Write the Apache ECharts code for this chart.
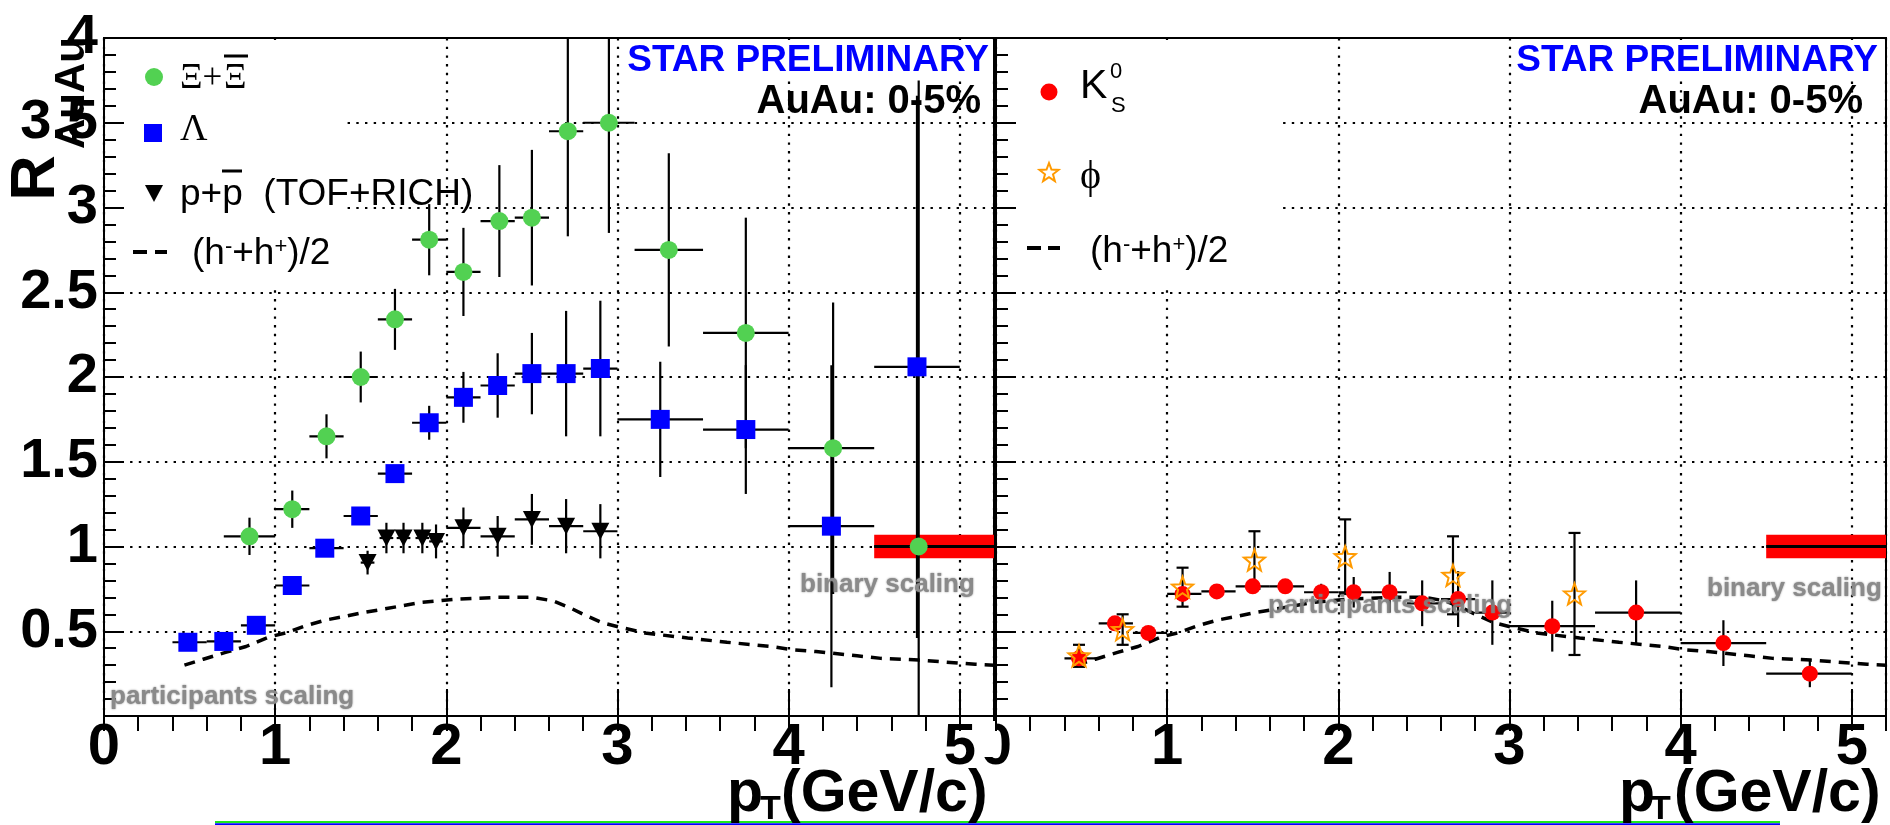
<!DOCTYPE html>
<html>
<head>
<meta charset="utf-8">
<title>R_AuAu vs pT</title>
<script src="https://cdn.jsdelivr.net/npm/echarts@6.0.0/dist/echarts.min.js"></script>
<style>
html,body{margin:0;padding:0;background:#fff;}
#chart{width:1890px;height:825px;}
</style>
</head>
<body>
<div id="chart"></div>
<script>
// ---------- Xi + anti-Xi ----------
const xiPt    = [0.85, 1.10, 1.30, 1.50, 1.70, 1.90, 2.10, 2.31, 2.50, 2.71, 2.95, 3.30, 3.75, 4.26, 4.76];
const xiR     = [1.06, 1.22, 1.65, 2.00, 2.34, 2.81, 2.62, 2.92, 2.94, 3.45, 3.50, 2.75, 2.26, 1.58, 1.00];
const xiErr   = [0.11, 0.11, 0.13, 0.15, 0.18, 0.21, 0.26, 0.33, 0.40, 0.62, 0.65, 0.57, 0.68, 0.86, 2.75];
const xiBinLo = [0.70, 1.00, 1.20, 1.40, 1.60, 1.80, 2.00, 2.20, 2.40, 2.60, 2.80, 3.10, 3.50, 4.00, 4.50];
const xiBinHi = [1.00, 1.20, 1.40, 1.60, 1.80, 2.00, 2.20, 2.40, 2.60, 2.80, 3.10, 3.50, 4.00, 4.50, 5.00];

// ---------- Lambda ----------
const laPt    = [0.49, 0.70, 0.89, 1.10, 1.29, 1.50, 1.70, 1.90, 2.10, 2.30, 2.50, 2.70, 2.90, 3.25, 3.75, 4.25, 4.75];
const laR     = [0.435, 0.44, 0.535, 0.77, 0.99, 1.18, 1.43, 1.73, 1.88, 1.95, 2.02, 2.02, 2.05, 1.75, 1.69, 1.12, 2.06];
const laErr   = [0.03, 0.03, 0.03, 0.03, 0.04, 0.04, 0.05, 0.10, 0.15, 0.19, 0.24, 0.37, 0.40, 0.34, 0.38, 0.95, 1.60];
const laBinLo = [0.40, 0.60, 0.80, 1.00, 1.20, 1.40, 1.60, 1.80, 2.00, 2.20, 2.40, 2.60, 2.80, 3.00, 3.50, 4.00, 4.50];
const laBinHi = [0.60, 0.80, 1.00, 1.20, 1.40, 1.60, 1.80, 2.00, 2.20, 2.40, 2.60, 2.80, 3.00, 3.50, 4.00, 4.50, 5.00];

// ---------- p + pbar (TOF+RICH) ----------
const ppPt    = [1.54, 1.65, 1.75, 1.86, 1.94, 2.10, 2.30, 2.50, 2.70, 2.90];
const ppR     = [0.905, 1.05, 1.05, 1.05, 1.03, 1.11, 1.06, 1.16, 1.12, 1.09];
const ppErr   = [0.07, 0.09, 0.09, 0.09, 0.10, 0.12, 0.12, 0.15, 0.16, 0.16];
const ppBinLo = [1.50, 1.61, 1.71, 1.82, 1.90, 2.00, 2.20, 2.40, 2.60, 2.80];
const ppBinHi = [1.58, 1.69, 1.79, 1.90, 1.98, 2.20, 2.40, 2.60, 2.80, 3.00];

// ---------- K0s ----------
const k0Pt    = [0.485, 0.695, 0.89, 1.09, 1.29, 1.50, 1.69, 1.90, 2.09, 2.30, 2.49, 2.70, 2.90, 3.25, 3.74, 4.25, 4.755];
const k0R     = [0.34, 0.547, 0.49, 0.72, 0.735, 0.765, 0.765, 0.73, 0.73, 0.73, 0.665, 0.69, 0.61, 0.53, 0.61, 0.43, 0.25];
const k0Err   = [0.02, 0.04, 0.03, 0.04, 0.03, 0.04, 0.04, 0.05, 0.09, 0.12, 0.135, 0.165, 0.19, 0.15, 0.19, 0.135, 0.08];
const k0BinLo = [0.40, 0.60, 0.80, 1.00, 1.20, 1.40, 1.60, 1.80, 2.00, 2.20, 2.40, 2.60, 2.80, 3.00, 3.50, 4.00, 4.50];
const k0BinHi = [0.60, 0.80, 1.00, 1.20, 1.40, 1.60, 1.80, 2.00, 2.20, 2.40, 2.60, 2.80, 3.00, 3.50, 4.00, 4.50, 5.00];

// ---------- phi ----------
const phiPt   = [0.485, 0.74, 1.09, 1.51, 2.04, 2.67, 3.38];
const phiR    = [0.355, 0.51, 0.76, 0.92, 0.94, 0.83, 0.72];
const phiErr  = [0.065, 0.09, 0.115, 0.17, 0.22, 0.23, 0.36];

// ---------- charged hadrons (h- + h+)/2 ----------
const hPt = [0.47, 0.58, 0.71, 0.83, 0.96, 1.06, 1.17, 1.29, 1.42, 1.51, 1.63, 1.85, 2.07, 2.30, 2.50, 2.62,
             2.72, 2.80, 2.91, 3.03, 3.16, 3.41, 3.64, 3.90, 4.03, 4.16, 4.40, 4.54, 4.76, 4.89, 5.09, 5.20];
const hR  = [0.30, 0.335, 0.375, 0.41, 0.465, 0.49, 0.53, 0.565, 0.59, 0.61, 0.63, 0.67, 0.69, 0.70, 0.70, 0.68,
             0.64, 0.60, 0.55, 0.52, 0.49, 0.46, 0.435, 0.41, 0.39, 0.38, 0.355, 0.34, 0.33, 0.32, 0.305, 0.30];

// ---------- binary-scaling reference band ----------
const bandPt    = [4.5, 5.2];
const bandLevel = 1.0;
const bandHalf  = 0.07;

// ---------- axis tick labels ----------
const xTickLabels = ['0', '1', '2', '3', '4', '5'];
const yTickLabels = ['0.5', '1', '1.5', '2', '2.5', '3', '3.5', '4'];

// ---------- styling ----------
const SANS  = '"Liberation Sans", Arial, Helvetica, sans-serif';
const SERIF = '"Liberation Serif", "DejaVu Serif", "Times New Roman", serif';
const GREEN = '#52d152', BLUE = '#0000ff', RED = '#ff0000', ORANGE = '#ff9a00', GREY = '#8a8a8a';
const X_MAX = 5.2, Y_MAX = 4;

function starPoints(cx, cy, rOut, rIn) {
  const pts = [];
  for (let i = 0; i < 10; i++) {
    const r = i % 2 ? rIn : rOut;
    const a = -Math.PI / 2 + i * Math.PI / 5;
    pts.push([cx + r * Math.cos(a), cy + r * Math.sin(a)]);
  }
  return pts;
}
const STAR_SYMBOL = 'path://' + starPoints(0, 0, 10, 4.2)
  .map((p, i) => (i ? 'L' : 'M') + p[0].toFixed(3) + ',' + p[1].toFixed(3)).join('') + 'Z';
const TRI_DOWN = 'path://M0,0L10,0L5,9.2Z';

// error bars: vertical bar (+ optional end caps) and horizontal bin bar
function errorBars(xs, ys, err, lo, hi, cap, xi, yi) {
  const data = xs.map((x, i) => [x, ys[i], ys[i] - err[i], ys[i] + err[i],
                                 lo ? lo[i] : x, hi ? hi[i] : x]);
  return {
    type: 'custom', xAxisIndex: xi, yAxisIndex: yi, clip: true, silent: true, z: 5,
    data,
    encode: { x: 0, y: 1 },
    renderItem(params, api) {
      const x = api.value(0), y = api.value(1);
      const c = api.coord([x, y]);
      const t = api.coord([x, api.value(3)]);
      const b = api.coord([x, api.value(2)]);
      const l = api.coord([api.value(4), y]);
      const r = api.coord([api.value(5), y]);
      const st = { stroke: '#000', lineWidth: 2.2 };
      const ch = [
        { type: 'line', shape: { x1: c[0], y1: t[1], x2: c[0], y2: b[1] }, style: st }
      ];
      if (r[0] - l[0] > 1) ch.push({ type: 'line', shape: { x1: l[0], y1: c[1], x2: r[0], y2: c[1] }, style: st });
      if (cap) {
        ch.push({ type: 'line', shape: { x1: c[0] - cap, y1: t[1], x2: c[0] + cap, y2: t[1] }, style: st });
        ch.push({ type: 'line', shape: { x1: c[0] - cap, y1: b[1], x2: c[0] + cap, y2: b[1] }, style: st });
      }
      return { type: 'group', children: ch };
    }
  };
}

function band(xi, yi) {
  return {
    type: 'custom', xAxisIndex: xi, yAxisIndex: yi, clip: true, silent: true, z: 4,
    data: [[bandPt[0], bandPt[1], bandLevel, bandHalf]],
    renderItem(params, api) {
      const a = api.coord([api.value(0), api.value(2) + api.value(3)]);
      const b = api.coord([api.value(1), api.value(2) - api.value(3)]);
      const m0 = api.coord([api.value(0), api.value(2)]);
      const m1 = api.coord([api.value(1), api.value(2)]);
      return { type: 'group', children: [
        { type: 'rect', shape: { x: a[0], y: a[1], width: b[0] - a[0], height: b[1] - a[1] }, style: { fill: RED } },
        { type: 'line', shape: { x1: m0[0], y1: m0[1], x2: m1[0], y2: m1[1] }, style: { stroke: '#000', lineWidth: 3 } }
      ]};
    }
  };
}

function hadronLine(xi, yi) {
  return {
    type: 'line', xAxisIndex: xi, yAxisIndex: yi, z: 3, silent: true,
    showSymbol: false, symbol: 'none', smooth: false,
    data: hPt.map((x, i) => [x, hR[i]]),
    lineStyle: { color: '#000', width: 3.5, type: [11, 8], opacity: 1 }
  };
}

function points(xs, ys, symbol, size, style, xi, yi) {
  return {
    type: 'scatter', xAxisIndex: xi, yAxisIndex: yi, z: 6, silent: true,
    symbol, symbolSize: size,
    data: xs.map((x, i) => [x, ys[i]]),
    itemStyle: Object.assign({ opacity: 1 }, style)
  };
}

const dotted = { color: '#000', width: 2.2, type: [2.4, 6.3], cap: 'butt' };

function xMajor(grid, showLabels) {
  return {
    type: 'value', gridIndex: grid, min: 0, max: X_MAX, interval: 1,
    axisLine: { show: true, onZero: false, lineStyle: { color: '#000', width: 2 } },
    axisTick: { show: true, inside: true, length: 27, lineStyle: { color: '#000', width: 2 } },
    minorTick: { show: false },
    splitLine: { show: true, lineStyle: dotted },
    axisLabel: {
      show: showLabels, margin: 3, color: '#000', fontFamily: SANS, fontWeight: 'bold', fontSize: 58,
      showMaxLabel: false,
      formatter: v => {
        const k = Math.round(v);
        return Math.abs(v - k) < 1e-6 && k < xTickLabels.length ? xTickLabels[k] : '';
      }
    }
  };
}
function xMinor(grid) {
  return {
    type: 'value', gridIndex: grid, min: 0, max: X_MAX, interval: 0.2,
    axisLine: { show: false },
    axisTick: { show: true, inside: true, length: 15, lineStyle: { color: '#000', width: 2 } },
    splitLine: { show: false },
    axisLabel: { show: false }
  };
}
function yAxis(grid, showLabels) {
  return {
    type: 'value', gridIndex: grid, min: 0, max: Y_MAX, interval: 0.5,
    axisLine: { show: true, onZero: false, lineStyle: { color: '#000', width: 2 } },
    axisTick: { show: true, inside: true, length: 20, lineStyle: { color: '#000', width: 2 } },
    minorTick: { show: true, splitNumber: 5, length: 12, lineStyle: { color: '#000', width: 2 } },
    splitLine: { show: true, lineStyle: dotted },
    axisLabel: {
      show: showLabels, margin: 6, color: '#000', fontFamily: SANS, fontWeight: 'bold', fontSize: 56,
      formatter: v => {
        const k = Math.round(v * 2) - 1;
        return k >= 0 && k < yTickLabels.length ? yTickLabels[k] : '';
      }
    }
  };
}

// ---------- free text & legend graphics ----------
function txt(x, y, text, size, o) {
  o = o || {};
  const style = {
    text, fontSize: size, fontFamily: o.family || SANS, fontWeight: o.weight || 'normal',
    fill: o.color || '#000', align: o.align || 'left', verticalAlign: 'middle'
  };
  if (o.rich) style.rich = o.rich;
  if (o.blur) { style.textShadowColor = o.color; style.textShadowBlur = o.blur; }
  return { type: 'text', x, y, rotation: o.rot || 0, z: o.z || 20, style, silent: true };
}
function whiteBox(x, y, w, h, z) {
  return { type: 'rect', z: z || 1, silent: true, shape: { x, y, width: w, height: h }, style: { fill: '#fff' } };
}
function seg(x1, y1, x2, y2, color, w, z) {
  return { type: 'line', z: z || 20, silent: true, shape: { x1, y1, x2, y2 }, style: { stroke: color, lineWidth: w } };
}
const hadronRich = {
  m: { fontSize: 37, fontFamily: SANS, verticalAlign: 'bottom' },
  s: { fontSize: 22, fontFamily: SANS, verticalAlign: 'top' }
};
const hadronText = '{m|(h}{s|-}{m|+h}{s|+}{m|)/2}';

const graphics = [
  // boxes that mask the grid behind the legends and the STAR labels
  whiteBox(128, 40, 219, 248),
  whiteBox(1021, 40, 256, 248),
  whiteBox(622, 40, 371, 39),
  whiteBox(1512, 40, 373, 39),

  // ----- left legend -----
  { type: 'circle', z: 20, silent: true, shape: { cx: 154, cy: 77, r: 9 }, style: { fill: GREEN } },
  txt(180, 79, 'Ξ+', 35, { family: SERIF }),
  txt(224, 79, 'Ξ', 35, { family: SERIF }),
  seg(224, 56, 248, 56, '#000', 3),
  { type: 'rect', z: 20, silent: true, shape: { x: 144, y: 124, width: 18, height: 18 }, style: { fill: BLUE } },
  txt(180, 130, 'Λ', 38, { family: SERIF }),
  { type: 'polygon', z: 20, silent: true, shape: { points: [[145, 185], [163, 185], [154, 202]] }, style: { fill: '#000' } },
  txt(180, 195, 'p+p  (TOF+RICH)', 37),
  seg(222, 171, 242, 171, '#000', 3),
  seg(133, 252, 147, 252, '#000', 4),
  seg(155, 252, 167, 252, '#000', 4),
  txt(192, 254, hadronText, 37, { rich: hadronRich }),

  // ----- right legend -----
  { type: 'circle', z: 20, silent: true, shape: { cx: 1049, cy: 92, r: 8.5 }, style: { fill: RED } },
  txt(1080, 87, 'K', 41),
  txt(1110, 72, '0', 22),
  txt(1111, 106, 'S', 22),
  { type: 'polygon', z: 20, silent: true, shape: { points: starPoints(1049, 173, 10, 4.2) },
    style: { fill: 'none', stroke: ORANGE, lineWidth: 2 } },
  txt(1080, 177, 'ϕ', 40, { family: SERIF }),
  seg(1027, 248, 1041, 248, '#000', 4),
  seg(1048, 248, 1060, 248, '#000', 4),
  txt(1090, 252, hadronText, 37, { rich: hadronRich }),

  // ----- panel labels -----
  txt(989, 61, 'STAR PRELIMINARY', 37, { weight: 'bold', color: BLUE, align: 'right' }),
  txt(981, 102, 'AuAu: 0-5%', 40, { weight: 'bold', align: 'right' }),
  txt(1878, 61, 'STAR PRELIMINARY', 37, { weight: 'bold', color: BLUE, align: 'right' }),
  txt(1863, 102, 'AuAu: 0-5%', 40, { weight: 'bold', align: 'right' }),

  // ----- scaling annotations -----
  txt(800, 585, 'binary scaling', 26, { weight: 'bold', color: GREY, blur: 2 }),
  txt(1707, 589, 'binary scaling', 26, { weight: 'bold', color: GREY, blur: 2 }),
  txt(110, 697, 'participants scaling', 26, { weight: 'bold', color: GREY, blur: 2 }),
  txt(1268, 606, 'participants scaling', 26, { weight: 'bold', color: 'rgba(128,128,128,0.85)', blur: 2 }),

  // ----- y title R_AuAu -----
  txt(37, 178, 'R', 63, { weight: 'bold', align: 'center', rot: Math.PI / 2 }),
  txt(72, 93, 'AuAu', 42, { weight: 'bold', align: 'center', rot: Math.PI / 2 }),

  // ----- x titles pT(GeV/c) -----
  txt(727, 795, 'p', 59, { weight: 'bold' }),
  txt(760, 810, 'T', 34, { weight: 'bold' }),
  txt(781, 795, '(GeV/c)', 59, { weight: 'bold' }),
  txt(1619, 795, 'p', 59, { weight: 'bold' }),
  txt(1650, 810, 'T', 34, { weight: 'bold' }),
  txt(1674, 795, '(GeV/c)', 59, { weight: 'bold' }),

  // left half of the right panel's "0" is hidden under the left pad
  whiteBox(975, 721, 20, 36, 30),

  // coloured rules along the bottom edge
  seg(215, 822, 1780, 822, '#1ee61e', 2.2, 5),
  seg(215, 824.3, 1780, 824.3, '#0000ff', 2.2, 5)
];

const chart = echarts.init(document.getElementById('chart'), null, { renderer: 'canvas' });
chart.setOption({
  animation: false,
  backgroundColor: '#fff',
  grid: [
    { left: 104, top: 38, width: 890, height: 678, show: true, borderColor: '#000', borderWidth: 2,
      backgroundColor: 'transparent', containLabel: false, outerBoundsMode: 'none' },
    { left: 996, top: 38, width: 890, height: 678, show: true, borderColor: '#000', borderWidth: 2,
      backgroundColor: 'transparent', containLabel: false, outerBoundsMode: 'none' }
  ],
  xAxis: [xMajor(0, true), xMinor(0), xMajor(1, true), xMinor(1)],
  yAxis: [yAxis(0, true), yAxis(1, false)],
  series: [
    // left panel
    band(0, 0),
    hadronLine(0, 0),
    errorBars(xiPt, xiR, xiErr, xiBinLo, xiBinHi, 0, 0, 0),
    errorBars(laPt, laR, laErr, laBinLo, laBinHi, 0, 0, 0),
    errorBars(ppPt, ppR, ppErr, ppBinLo, ppBinHi, 0, 0, 0),
    points(xiPt, xiR, 'circle', 18, { color: GREEN }, 0, 0),
    points(laPt, laR, 'rect', 19, { color: BLUE }, 0, 0),
    points(ppPt, ppR, TRI_DOWN, [18, 17], { color: '#000' }, 0, 0),
    // right panel
    band(2, 1),
    hadronLine(2, 1),
    errorBars(k0Pt, k0R, k0Err, k0BinLo, k0BinHi, 0, 2, 1),
    errorBars(phiPt, phiR, phiErr, null, null, 6, 2, 1),
    points(k0Pt, k0R, 'circle', 16, { color: RED }, 2, 1),
    points(phiPt, phiR, STAR_SYMBOL, 21, { color: 'rgba(0,0,0,0)', borderColor: ORANGE, borderWidth: 2 }, 2, 1)
  ],
  graphic: { elements: graphics }
});
</script>
</body>
</html>
